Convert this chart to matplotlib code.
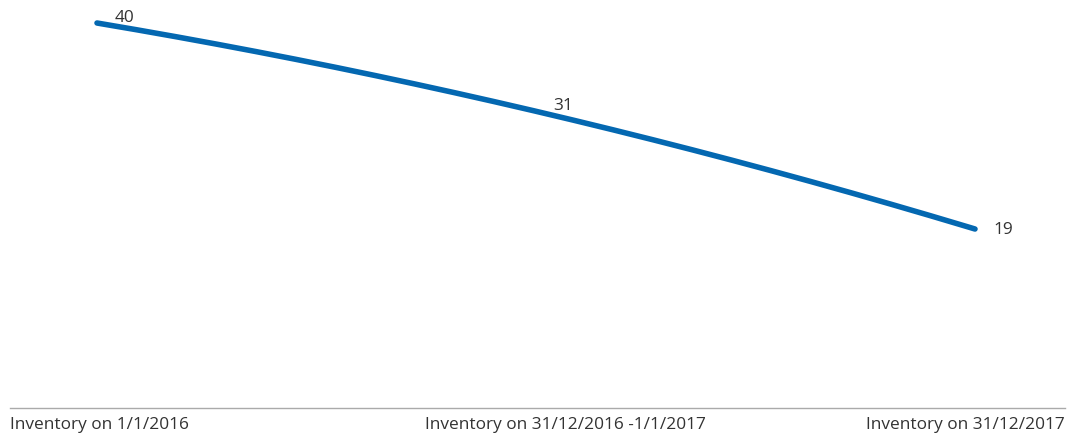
import numpy as np
import matplotlib.pyplot as plt

plt.rcParams['font.family'] = ['Open Sans', 'DejaVu Sans']

# data
categories = ['Inventory on 1/1/2016', 'Inventory on 31/12/2016 -1/1/2017', 'Inventory on 31/12/2017']
values = [40, 31, 19]

x = np.arange(len(values))
# smooth curve through the points (quadratic)
coef = np.polyfit(x, values, 2)
xs = np.linspace(x[0], x[-1], 200)
ys = np.polyval(coef, xs)

fig = plt.figure(figsize=(10.71, 4.35), dpi=100)
ax = fig.add_axes([10 / 1071, 26 / 435, 1055 / 1071, 409 / 435])

ax.plot(xs, ys, color='#0468b1', lw=4.0, solid_capstyle='round')

# value labels: first two above-right, last one to the right
offsets = [(19.5, 4.5, 'center'), (19.5, 4.5, 'center'), (13, 0, 'left')]
for xi, v, (dx, dy, ha) in zip(x, values, offsets):
    ax.annotate(str(v), (xi, v), xytext=(dx, dy), textcoords='offset points',
                ha=ha, va='center', fontsize=12.4, color='#333333')

# x positions / limits so the points land where they do in the picture
ax.set_xlim(-87 / 439, 2 + 90 / 439)
ax.set_ylim(40 - 385 / 9.81, 40 + 24 / 9.81)

for s in ['top', 'right', 'left']:
    ax.spines[s].set_visible(False)
ax.spines['bottom'].set_color('#aaaaaa')
ax.spines['bottom'].set_linewidth(1)
ax.set_yticks([])
ax.set_xticks([])

lab_pos = [(0.0, 'left'), ((565 - 10) / 1055, 'center'), (1.0, 'right')]
for (px, ha), lab in zip(lab_pos, categories):
    ax.text(px, -0.02, lab, transform=ax.transAxes, ha=ha, va='top',
            fontsize=12.4, color='#333333')

fig.savefig('out.png', dpi=100)
